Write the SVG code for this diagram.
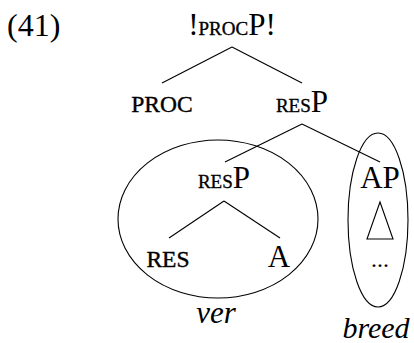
<svg xmlns="http://www.w3.org/2000/svg" width="414" height="343" viewBox="0 0 414 343">
<style>
text{font-family:"Liberation Serif","Times New Roman",serif;fill:#000;font-size:31px;text-anchor:middle}
.sc{font-size:19px;stroke:#000;stroke-width:0.35}
.sc2{font-size:23.5px;stroke:#000;stroke-width:0.4}
.it{font-style:italic}
line,polygon,ellipse{stroke:#000;stroke-width:1.1;fill:none}
</style>
<rect width="414" height="343" fill="#fff"/>
<text x="7" y="36" style="text-anchor:start;font-size:32px">(41)</text>
<g id="edges">
<line x1="232" y1="47" x2="162" y2="83"/>
<line x1="232" y1="47" x2="302" y2="83"/>
<line x1="302" y1="124" x2="225" y2="162"/>
<line x1="302" y1="124" x2="380" y2="162"/>
<line x1="224" y1="201" x2="169" y2="238"/>
<line x1="224" y1="201" x2="280" y2="238"/>
</g>
<g id="ellipse-ver"><ellipse cx="218" cy="219" rx="100" ry="79"/><text x="216" y="323" class="it">ver</text></g>
<g id="ellipse-breed"><ellipse cx="378" cy="220" rx="30" ry="87"/><text x="376" y="338" class="it" style="font-size:30px">breed</text></g>
<g id="n-procP"><text x="232" y="35">!<tspan class="sc">PROC</tspan>P!</text></g>
<g id="n-proc"><text x="162" y="112" class="sc2">PROC</text></g>
<g id="n-resP1"><text x="302" y="112"><tspan class="sc">RES</tspan>P</text></g>
<g id="n-resP2"><text x="224" y="188"><tspan class="sc">RES</tspan>P</text></g>
<g id="n-AP"><text x="380" y="188">AP</text><polygon points="380,202 367,239 393,239"/><text x="380" y="267" style="font-size:24px">...</text></g>
<g id="n-res"><text x="168" y="267" class="sc2">RES</text></g>
<g id="n-A"><text x="279" y="267">A</text></g>
</svg>
